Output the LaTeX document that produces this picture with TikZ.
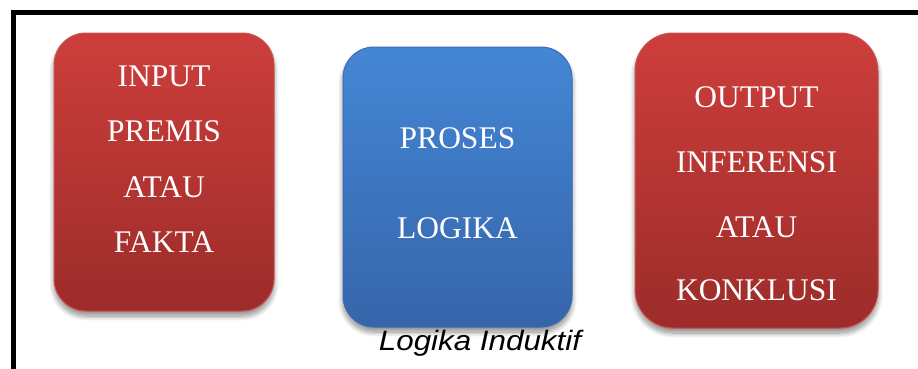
\documentclass[tikz,border=0pt]{standalone}
\usepackage{fontspec}
\setmainfont{Liberation Serif}
\newfontfamily\captionfont{Liberation Sans}
\usetikzlibrary{shadows.blur}

\definecolor{redtop}{HTML}{CD3E3B}
\definecolor{redbot}{HTML}{9C2C2A}
\definecolor{rededge}{HTML}{C9504D}
\definecolor{bluetop}{HTML}{4486D5}
\definecolor{bluebot}{HTML}{3565AA}
\definecolor{blueedge}{HTML}{3A6DB3}

\tikzset{
  boxbase/.style={rectangle, inner sep=0pt, line width=1pt,
    blur shadow={shadow xshift=0pt, shadow yshift=-5pt, shadow blur radius=5pt,
                 shadow opacity=45, shadow blur steps=12}},
  redbox/.style={boxbase, rounded corners=32pt, draw=rededge,
    top color=redtop, bottom color=redbot},
  bluebox/.style={boxbase, rounded corners=31pt, draw=blueedge,
    top color=bluetop, bottom color=bluebot},
  boxtext/.style={anchor=base, inner sep=0pt, text=white,
    font=\fontsize{31.5}{36}\selectfont},
  captiontext/.style={anchor=base, inner sep=0pt, text=black, xscale=1.12,
    font=\captionfont\itshape\fontsize{28}{32}\selectfont},
  frameline/.style={line width=5.5pt, draw=black}
}

\begin{document}
\begin{tikzpicture}[x=1pt, y=-1pt]
  \useasboundingbox (0,0) rectangle (918,368);
  \clip (0,0) rectangle (918,368);

  % outer frame (continues past the right and bottom edges)
  \coordinate (frameBL) at (13.5,390);
  \coordinate (frameTL) at (13.5,12.5);
  \coordinate (frameTR) at (940,12.5);
  \draw[frameline] (frameBL) -- (frameTL) -- (frameTR);

  % the three boxes
  \node[redbox, minimum width=220pt, minimum height=278pt] (input) at (164,172) {};
  \node[bluebox, minimum width=229pt, minimum height=280pt] (proses) at (457.5,187) {};
  \node[redbox, rounded corners=38pt, minimum width=243pt, minimum height=295pt] (output) at (756.5,180.5) {};

  % box labels
  \node[boxtext] (in1) at (164,86) {INPUT};
  \node[boxtext] (in2) at (164,141) {PREMIS};
  \node[boxtext] (in3) at (164,197) {ATAU};
  \node[boxtext] (in4) at (164,252) {FAKTA};

  \node[boxtext] (pr1) at (457.5,148) {PROSES};
  \node[boxtext] (pr2) at (457.5,238) {LOGIKA};

  \node[boxtext] (out1) at (756.5,107) {OUTPUT};
  \node[boxtext] (out2) at (756.5,172) {INFERENSI};
  \node[boxtext] (out3) at (756.5,237) {ATAU};
  \node[boxtext] (out4) at (756.5,300) {KONKLUSI};

  % caption
  \node[captiontext] (caption) at (480,350) {Logika Induktif};
\end{tikzpicture}
\end{document}
